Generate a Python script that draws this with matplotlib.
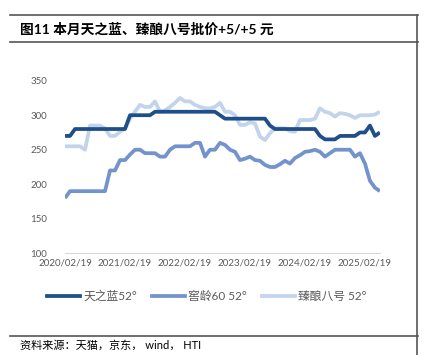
import matplotlib.pyplot as plt
import matplotlib.lines as mlines

plt.rcParams['font.family'] = ['Lato', 'Noto Sans CJK SC', 'DejaVu Sans']

# 月度数据 2020/02 - 2025/05
tick_labels = ["2020/02/19", "2021/02/19", "2022/02/19", "2023/02/19", "2024/02/19", "2025/02/19"]
tick_pos = [0, 12, 24, 36, 48, 60]

tianzhilan = [270, 270] + [280] * 11 + [300] * 5 + [305] * 13 + [300] + [295] * 9 + [285] \
    + [280] * 9 + [270] + [265] * 3 + [270] * 4 + [275, 275, 285, 270, 275]

jiaoling60 = [180, 190, 190, 190, 190, 190, 190, 190, 190, 220, 220, 235, 235, 243, 250, 250,
              245, 245, 245, 240, 240, 250, 255, 255, 255, 255, 260, 260, 240, 250, 250, 260,
              257, 250, 247, 235, 237, 240, 235, 234, 228, 225, 225, 229, 234, 230, 238, 242,
              247, 248, 250, 247, 240, 245, 250, 250, 250, 250, 240, 245, 230, 205, 195, 190]

zhenniang8 = [255, 255, 255, 255, 250, 285, 285, 285, 281, 270, 270, 276, 281, 295, 305, 315,
              312, 312, 320, 305, 307, 312, 318, 325, 320, 320, 315, 312, 310, 310, 312, 318,
              305, 305, 300, 286, 286, 290, 288, 269, 264, 274, 281, 281, 281, 277, 276, 293,
              293, 293, 295, 310, 305, 303, 298, 303, 302, 300, 296, 300, 300, 300, 301, 305]

names = ["天之蓝52°", "窖龄60 52°", "臻酿八号 52°"]
colors = ["#1f4e89", "#7393cd", "#c2d3ec"]

fig = plt.figure(figsize=(4.25, 3.55), dpi=100)
ax = fig.add_axes([0.153, 0.2865, 0.741, 0.4862])

x = list(range(len(tianzhilan)))
# 先画浅色，再画深色
ax.plot(x, zhenniang8, color=colors[2], lw=2.7, solid_capstyle='butt', zorder=2)
ax.plot(x, jiaoling60, color=colors[1], lw=2.7, solid_capstyle='butt', zorder=3)
ax.plot(x, tianzhilan, color=colors[0], lw=2.7, solid_capstyle='butt', zorder=4)

ax.set_xlim(0, 63)
ax.set_ylim(100, 350)
ax.set_yticks([100, 150, 200, 250, 300, 350])
ax.set_xticks(tick_pos)
ax.set_xticklabels(tick_labels)
ax.tick_params(length=0, labelsize=7, colors='#595959', pad=4)
ax.tick_params(axis='y', pad=13)
for s in ['top', 'right', 'left']:
    ax.spines[s].set_visible(False)
ax.spines['bottom'].set_color('#d9d9d9')
ax.spines['bottom'].set_linewidth(0.8)

handles = [mlines.Line2D([], [], color=c, lw=2.7) for c in colors]
fig.legend(handles, names, loc='center', bbox_to_anchor=(0.487, 0.166), ncol=3,
           frameon=False, fontsize=8.5, handlelength=2.8, columnspacing=1.3,
           handletextpad=0.25, labelcolor='#595959')

# 标题与边框
fig.text(20 / 425, 1 - 29 / 355, "图11 本月天之蓝、臻酿八号批价+5/+5 元", fontsize=9.9,
         fontweight='bold', va='center', ha='left')
fig.add_artist(mlines.Line2D([10 / 425, 418 / 425], [1 - 15 / 355] * 2, color='#555555', lw=1.2))
fig.add_artist(mlines.Line2D([10 / 425, 418 / 425], [1 - 42 / 355] * 2, color='#555555', lw=1.2))
fig.add_artist(mlines.Line2D([10 / 425, 418 / 425], [1 - 336 / 355] * 2, color='#555555', lw=1.2))
fig.add_artist(mlines.Line2D([417 / 425] * 2, [1 - 15 / 355, 0], color='#555555', lw=1.2))
fig.text(20 / 425, 1 - 345 / 355, "资料来源：天猫，京东， wind， HTI", fontsize=8,
         va='center', ha='left')

fig.savefig("out.png", dpi=100)
